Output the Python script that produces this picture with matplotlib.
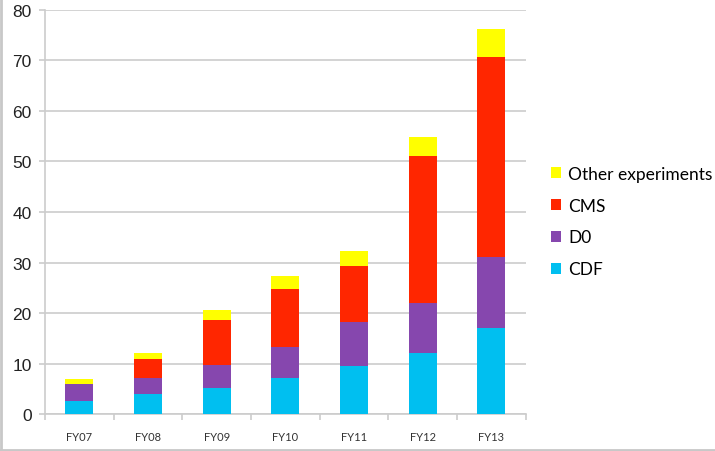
import numpy as np
import matplotlib
matplotlib.use("Agg")
import matplotlib.pyplot as plt
from matplotlib.lines import Line2D

# data
years = ["FY07", "FY08", "FY09", "FY10", "FY11", "FY12", "FY13"]
cdf = [2.6, 4.0, 5.2, 7.2, 9.6, 12.2, 17.0]
d0 = [3.3, 3.1, 4.6, 6.2, 8.6, 9.8, 14.1]
cms = [0.1, 3.9, 8.8, 11.4, 11.1, 29.0, 39.6]
other = [0.9, 1.1, 2.1, 2.5, 2.9, 3.8, 5.4]

grid_col = "#cccccc"

fig = plt.figure(figsize=(7.15, 4.52), dpi=100)
ax = fig.add_axes([0.0629, 0.0812, 0.6723, 0.8951])

x = np.arange(len(years))
w = 0.41
b1 = np.array(cdf)
b2 = b1 + np.array(d0)
b3 = b2 + np.array(cms)
ax.bar(x, cdf, w, color="#00bff0", label="CDF", zorder=3)
ax.bar(x, d0, w, bottom=b1, color="#8647ae", label="D0", zorder=3)
ax.bar(x, cms, w, bottom=b2, color="#ff2600", label="CMS", zorder=3)
ax.bar(x, other, w, bottom=b3, color="#ffff00", label="Other experiments", zorder=3)

ax.set_xlim(-0.5, len(years) - 0.5)
ax.set_ylim(0, 80)
ax.set_yticks(range(0, 81, 10))
ax.yaxis.grid(True, color=grid_col, linewidth=1.2, zorder=0)

for s in ["top", "right"]:
    ax.spines[s].set_visible(False)
for s in ["left", "bottom"]:
    ax.spines[s].set_color(grid_col)
    ax.spines[s].set_linewidth(1.2)

ax.set_xticks(x)
ax.set_xticklabels(years, fontfamily="Lato", fontsize=8, color="#333333")
ax.set_xticks(np.arange(-0.5, len(years), 1.0), minor=True)
ax.tick_params(axis="x", which="major", length=0, pad=12)
ax.tick_params(axis="x", which="minor", length=4.5, color=grid_col, width=1.2)
ax.tick_params(axis="y", length=4.5, color=grid_col, width=1.2, pad=5,
               labelsize=12.5, labelcolor="#222222")
for lab in ax.get_yticklabels():
    lab.set_fontfamily("Liberation Sans")

handles, labels = ax.get_legend_handles_labels()
order = [3, 2, 1, 0]
ax.legend([handles[i] for i in order], [labels[i] for i in order],
          loc="center left", bbox_to_anchor=(1.02, 0.4765), frameon=False,
          handlelength=0.6, handleheight=0.6, handletextpad=0.4,
          labelspacing=0.92, prop={"family": "Lato", "size": 12.5})

# light frame around the chart like the original screenshot
fig.add_artist(Line2D([0.002, 0.002], [0, 1], color="#c8c8c8", linewidth=2,
                      transform=fig.transFigure))
fig.add_artist(Line2D([0, 1], [0.003, 0.003], color="#c8c8c8", linewidth=2,
                      transform=fig.transFigure))

fig.savefig("out.png", dpi=100)
